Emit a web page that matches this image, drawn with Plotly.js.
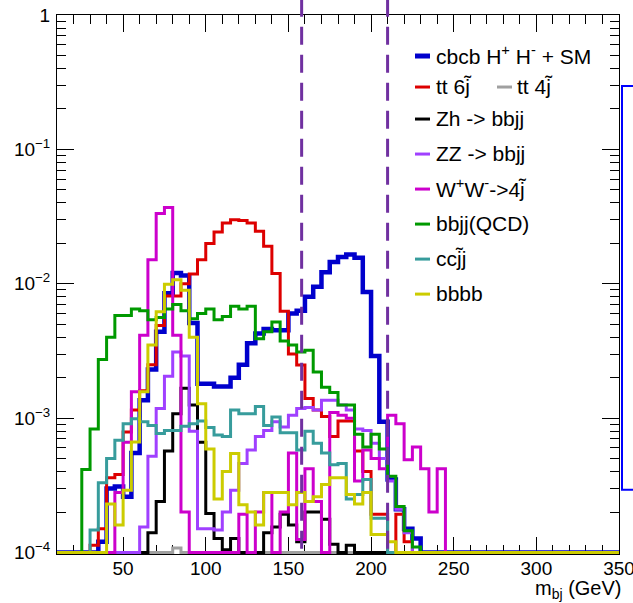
<!DOCTYPE html>
<html>
<head>
<meta charset="utf-8">
<script src="https://cdn.plot.ly/plotly-3.0.1.min.js"></script>
<style>html,body{margin:0;padding:0;background:#fff}</style>
</head>
<body>
<div id="chart" style="width:633px;height:603px"></div>
<script>
// ---- histogram bin edges (GeV), 68 bins of 5 GeV from 10 to 350 ----
const binEdges = [10,15,20,25,30,35,40,45,50,55,60,65,70,75,80,85,90,95,100,105,110,115,120,125,130,135,140,145,150,155,160,165,170,175,180,185,190,195,200,205,210,215,220,225,230,235,240,245,250,255,260,265,270,275,280,285,290,295,300,305,310,315,320,325,330,335,340,345,350];

// ---- series values per bin (0 = empty bin) ----
const cbcbSignal = [0,0,0,0,0,1.2e-4,3.0e-4,3.1e-4,2.6e-4,5.5e-4,1.36e-3,2.3e-3,4.4e-3,8.5e-3,1.2e-2,1.15e-2,5.1e-3,1.8e-3,1.8e-3,1.72e-3,1.72e-3,2.0e-3,2.5e-3,3.6e-3,4.26e-3,4.6e-3,4.5e-3,4.5e-3,6.0e-3,6.3e-3,8.0e-3,9.5e-3,1.22e-2,1.45e-2,1.58e-2,1.65e-2,1.56e-2,8.7e-3,2.9e-3,9.4e-4,3.5e-4,2.1e-4,1.5e-4,1.27e-4,0,0,0,0,0,0,0,0,0,0,0,0,0,0,0,0,0,0,0,0,0,0,0,0];
const tt6j = [0,0,0,0,1.13e-4,1.5e-4,3.6e-4,3.8e-4,7.9e-4,1.15e-3,1.6e-3,2.5e-3,4.9e-3,8.1e-3,8.1e-3,1.0e-2,1.18e-2,1.51e-2,1.99e-2,2.43e-2,2.83e-2,3.0e-2,2.95e-2,2.83e-2,2.46e-2,1.9e-2,1.19e-2,6.24e-3,3.0e-3,2.48e-3,1.4e-3,1.15e-3,1.03e-3,7.3e-4,9.5e-4,9.5e-4,5.7e-4,4.0e-4,1.93e-4,1.93e-4,0,1.93e-4,1.2e-4,0,0,0,0,0,0,0,0,0,0,0,0,0,0,0,0,0,0,0,0,0,0,0,0,0];
const tt4j = [0,0,0,0,0,0,0,0,0,0,0,0,0,0,1.08e-4,0,0,0,0,0,0,0,0,0,0,0,0,0,0,0,0,0,0,0,0,0,0,0,0,0,0,0,0,0,0,0,0,0,0,0,0,0,0,0,0,0,0,0,0,0,0,0,0,0,0,0,0,0];
const zhBbjj = [0,0,0,0,0,0,0,0,0,0,0,1.4e-4,2.4e-4,5.7e-4,1.08e-3,1.67e-3,1.25e-3,6.6e-4,1.95e-4,1.27e-4,1.05e-4,1.27e-4,0,0,0,1.4e-4,1.55e-4,1.93e-4,1.6e-4,1.2e-4,2.0e-4,2.0e-4,1.77e-4,1.15e-4,0,1.13e-4,0,0,0,0,0,0,0,0,0,0,0,0,0,0,0,0,0,0,0,0,0,0,0,0,0,0,0,0,0,0,0,0];
const zzBbjj = [0,0,0,0,0,0,0,0,0,0,1.55e-4,5.2e-4,1.18e-3,2.05e-3,3.1e-3,2.9e-3,8.0e-4,1.5e-4,1.5e-4,1.47e-4,2.0e-4,2.9e-4,4.6e-4,5.8e-4,7.3e-4,8.1e-4,9.4e-4,8.6e-4,1.05e-3,1.18e-3,1.2e-3,1.15e-3,1.36e-3,1.36e-3,1.25e-3,1.15e-3,8.3e-4,8.1e-4,6.5e-4,5.0e-4,3.4e-4,2.1e-4,1.4e-4,0,0,0,0,0,0,0,0,0,0,0,0,0,0,0,0,0,0,0,0,0,0,0,0,0];
const wwTo4j = [0,0,0,0,0,0,0,2.8e-4,6.6e-4,1.57e-3,4.14e-3,1.51e-2,3.33e-2,3.69e-2,4.14e-3,2.0e-4,0,0,0,0,0,0,1.93e-4,0,2.0e-4,2.8e-4,0,2.0e-4,5.5e-4,1.25e-4,4.2e-4,2.4e-4,0,1.1e-3,1.05e-3,1.0e-3,3.4e-4,5.8e-4,5.0e-4,4.2e-4,1.05e-3,9.1e-4,4.9e-4,6.1e-4,4.2e-4,2.0e-4,4.2e-4,0,0,0,0,0,0,0,0,0,0,0,0,0,0,0,0,0,0,0,0,0];
const bbjjQCD = [0,0,0,4.15e-4,8.3e-4,2.73e-3,4.0e-3,5.8e-3,5.8e-3,6.5e-3,6.3e-3,5.4e-3,5.6e-3,6.5e-3,7.0e-3,6.3e-3,5.5e-3,6.0e-3,6.5e-3,5.4e-3,5.7e-3,6.8e-3,6.5e-3,6.8e-3,3.9e-3,4.4e-3,5.2e-3,3.75e-3,3.5e-3,3.1e-3,3.2e-3,2.2e-3,1.7e-3,1.55e-3,1.25e-3,1.25e-3,7.6e-4,6.1e-4,7.6e-4,5.9e-4,3.7e-4,2.2e-4,1.45e-4,1.1e-4,0,0,0,0,0,0,0,0,0,0,0,0,0,0,0,0,0,0,0,0,0,0,0,0];
const ccjj = [0,0,0,0,1.47e-4,3.3e-4,5.0e-4,6.85e-4,9.1e-4,9.9e-4,9.4e-4,8.8e-4,7.7e-4,8.1e-4,8.1e-4,8.7e-4,9.1e-4,9.5e-4,8.5e-4,7.5e-4,7.3e-4,1.15e-3,1.08e-3,1.08e-3,1.22e-3,8.8e-4,1.02e-3,7.8e-4,7.8e-4,5.8e-4,8.0e-4,6.5e-4,5.5e-4,4.5e-4,4.6e-4,2.5e-4,2.7e-4,3.5e-4,1.8e-4,1.8e-4,0,0,0,0,0,0,0,0,0,0,0,0,0,0,0,0,0,0,0,0,0,0,0,0,0,0,0,0];
const bbbb = [0,0,0,0,0,0,2.3e-4,1.6e-4,2.9e-4,6.65e-4,1.57e-3,3.5e-3,6.2e-3,9.9e-3,1.07e-2,8.95e-3,4.0e-3,1.28e-3,5.9e-4,2.5e-4,4.0e-4,5.45e-4,2.27e-4,2.0e-4,1.6e-4,2.8e-4,2.8e-4,2.8e-4,2.27e-4,2.8e-4,2.4e-4,2.6e-4,3.2e-4,3.6e-4,3.6e-4,2.7e-4,2.3e-4,2.8e-4,1.36e-4,1.36e-4,1.2e-4,0,0,0,0,0,0,0,0,0,0,0,0,0,0,0,0,0,0,0,0,0,0,0,0,0,0,0];

// ---- labels ----
const seriesNames = ["cbcb H<sup>+</sup> H<sup>-</sup> + SM", "tt 6j\u0303", "tt 4j\u0303", "Zh -&gt; bbjj", "ZZ -&gt; bbjj", "W<sup>+</sup>W<sup>-</sup>-&gt;4j\u0303", "bbjj(QCD)", "ccj\u0303j", "bbbb"];
const seriesColors = ["#0000cc", "#dd0000", "#a0a0a0", "#000000", "#a040ff", "#cc00cc", "#009900", "#379c9c", "#cccc00"];
const seriesWidths = [4.5, 3, 3, 3, 3, 3, 3, 3, 3];
const seriesData = [cbcbSignal, tt6j, tt4j, zhBbjj, zzBbjj, wwTo4j, bbjjQCD, ccjj, bbbb];
const yTickVals = [1e-4, 1e-3, 1e-2, 1e-1, 1];
const yTickText = ["10<sup>\u22124</sup>", "10<sup>\u22123</sup>", "10<sup>\u22122</sup>", "10<sup>\u22121</sup>", "1"];
const xTickVals = [50, 100, 150, 200, 250, 300, 350];
const massWindow = [158, 210];
const xTitle = "m<sub>bj</sub> (GeV)";

const yFloor = 1e-4;
const yMinor = [];
for (let d = -4; d < 0; d++) for (let m = 2; m <= 9; m++) yMinor.push(m * Math.pow(10, d));

const traces = seriesData.map((vals, i) => {
  const y = vals.map(v => Math.max(v, yFloor));
  y.push(y[y.length - 1]);
  return {
    type: "scatter", mode: "lines", x: binEdges, y: y,
    line: {shape: "hv", color: seriesColors[i], width: seriesWidths[i]},
    hoverinfo: "skip", showlegend: false
  };
});

// frame geometry (px); the frame bottom sits 1.5 px under 1e-4 so floor lines show fully
const L = 57, R = 619, T = 15, B = 553.8;
const decadePx = 134.4;
const yBottomLog = -4 - 1.5 / decadePx;
const px2x = p => (p - L) / (R - L);
const py2y = p => (B - p) / (B - T);
const legendRows = [
  {idx: 0, py: 55, lx: 415, tx: 434},
  {idx: 1, py: 86, lx: 415, tx: 434},
  {idx: 2, py: 86, lx: 497, tx: 515},
  {idx: 3, py: 118, lx: 415, tx: 434},
  {idx: 4, py: 153, lx: 415, tx: 434},
  {idx: 5, py: 188, lx: 415, tx: 434},
  {idx: 6, py: 223, lx: 415, tx: 434},
  {idx: 7, py: 258, lx: 415, tx: 434},
  {idx: 8, py: 293, lx: 415, tx: 434}
];
const shapes = [];
const annotations = [];
legendRows.forEach(r => {
  shapes.push({type: "line", xref: "paper", yref: "paper",
    x0: px2x(r.lx), x1: px2x(r.lx + 15), y0: py2y(r.py + 1), y1: py2y(r.py + 1),
    line: {color: seriesColors[r.idx], width: r.idx === 0 ? 5 : 3}});
  annotations.push({xref: "paper", yref: "paper", x: px2x(r.tx), y: py2y(r.py),
    xanchor: "left", yanchor: "middle", showarrow: false, text: seriesNames[r.idx],
    font: {family: "Liberation Sans, Arial, sans-serif", size: 21, color: "#000"}});
});
massWindow.forEach(m => shapes.push({type: "line", xref: "x", yref: "paper",
  x0: m, x1: m, y0: 1.03, y1: -0.008, line: {color: "#7030a0", width: 3, dash: "18px,10px"}}));
// partially visible box of a neighbouring pad at the right edge
shapes.push({type: "rect", xref: "paper", yref: "paper",
  x0: px2x(622), x1: px2x(660), y0: py2y(489.5), y1: py2y(86),
  line: {color: "#0000ff", width: 2}, fillcolor: "rgba(0,0,0,0)"});
annotations.push({xref: "paper", yref: "paper", x: 1, y: py2y(589), xanchor: "right", yanchor: "middle",
  xshift: 4, showarrow: false, text: xTitle,
  font: {family: "Liberation Sans, Arial, sans-serif", size: 20, color: "#000"}});

const tickFont = {family: "Liberation Sans, Arial, sans-serif", size: 19, color: "#000"};
const layout = {
  width: 633, height: 603,
  margin: {l: L, r: 633 - R, t: T, b: 603 - B, pad: 0},
  paper_bgcolor: "#fff", plot_bgcolor: "#fff",
  showlegend: false, hovermode: false,
  xaxis: {
    range: [binEdges[0], binEdges[binEdges.length - 1]],
    tickmode: "array", tickvals: xTickVals,
    ticks: "inside", ticklen: 17, tickwidth: 1, tickcolor: "#000",
    mirror: "allticks", showline: true, linecolor: "#000", linewidth: 1,
    showgrid: false, zeroline: false, tickfont: tickFont,
    ticklabeloverflow: "allow", ticklabelstandoff: -3, layer: "below traces",
    minor: {ticks: "inside", ticklen: 9, dtick: 10, tick0: 0, tickcolor: "#000", tickwidth: 1, showgrid: false}
  },
  yaxis: {
    type: "log", range: [yBottomLog, 0],
    tickmode: "array", tickvals: yTickVals, ticktext: yTickText,
    ticks: "inside", ticklen: 17, tickwidth: 1, tickcolor: "#000",
    mirror: "allticks", showline: true, linecolor: "#000", linewidth: 1,
    showgrid: false, zeroline: false, tickfont: tickFont,
    ticklabelstandoff: 2, layer: "below traces",
    minor: {ticks: "inside", ticklen: 9, tickmode: "array", tickvals: yMinor, tickcolor: "#000", tickwidth: 1, showgrid: false}
  },
  shapes: shapes,
  annotations: annotations
};
Plotly.newPlot("chart", traces, layout, {staticPlot: true, displayModeBar: false});
</script>
</body>
</html>
